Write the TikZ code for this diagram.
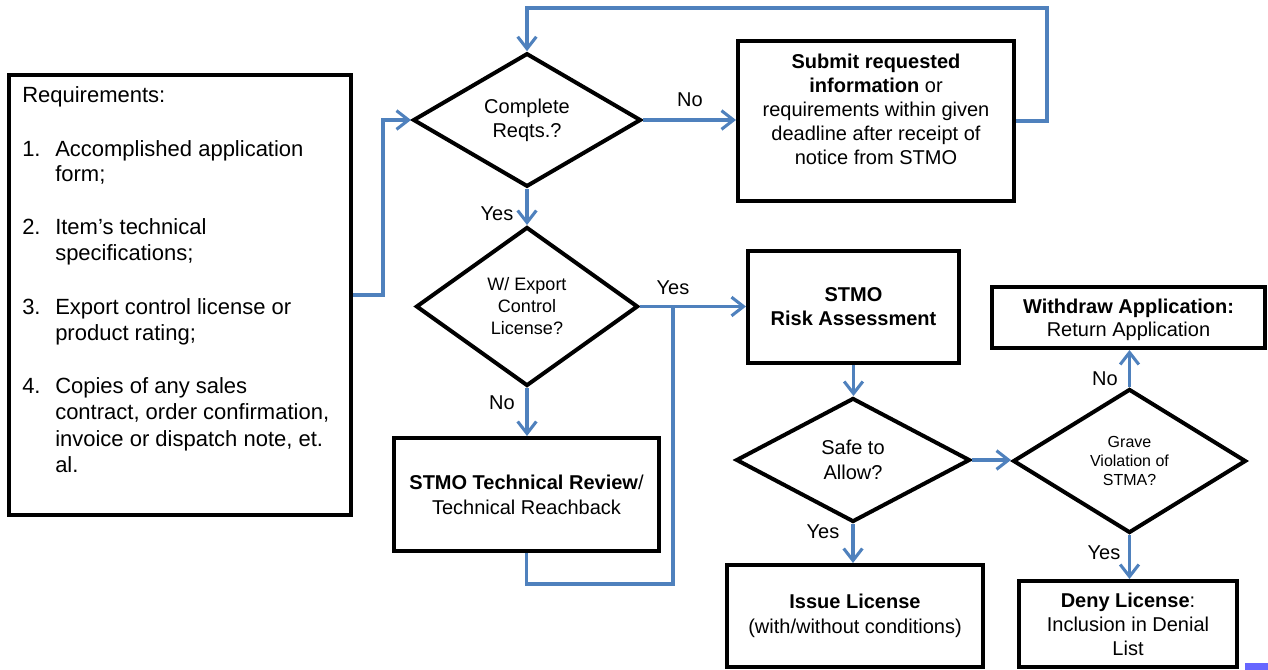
\documentclass[tikz,border=0pt]{standalone}
\usepackage{fontspec}
\setmainfont{Liberation Sans}
\usetikzlibrary{arrows.meta,shapes.geometric}
\definecolor{flow}{RGB}{79,129,189}
\definecolor{patch}{RGB}{102,102,255}
\newcommand\fsz[2]{\fontsize{#1}{#2}\selectfont}
\begin{document}
\begin{tikzpicture}[x=0.75pt,y=-0.75pt,
  box/.style={draw=black,line width=3pt,rectangle,inner sep=0pt},
  dia/.style={draw=black,line width=3pt,diamond,inner sep=1pt,align=center},
  conn/.style={draw=flow,line width=2.3pt},
  arr/.style={conn,-{Straight Barb[length=9pt,width=14pt]}},
  lbl/.style={font=\fsz{15}{18},inner sep=0pt},
  rq/.style={anchor=base west,font=\fsz{16.5}{19.5},inner sep=0pt}]
\useasboundingbox (0,0) rectangle (1268,670);

% Requirements box
\node[box,minimum width=256.5pt,minimum height=330pt] (req) at (180,295) {};
\node[rq] (r0) at (22,103) {Requirements:};
\node[rq] (n1) at (22,157) {1.};
\node[rq] (r1a) at (55,157) {Accomplished application};
\node[rq] (r1b) at (55,182) {form;};
\node[rq] (n2) at (22,235) {2.};
\node[rq] (r2a) at (55,235) {Item’s technical};
\node[rq] (r2b) at (55,261) {specifications;};
\node[rq] (n3) at (22,315) {3.};
\node[rq] (r3a) at (55,315) {Export control license or};
\node[rq] (r3b) at (55,341) {product rating;};
\node[rq] (n4) at (22,393) {4.};
\node[rq] (r4a) at (55,393) {Copies of any sales};
\node[rq] (r4b) at (55,420) {contract, order confirmation,};
\node[rq] (r4c) at (55,446) {invoice or dispatch note, et.};
\node[rq] (r4d) at (55,472) {al.};

% Decisions and boxes
\node[dia,minimum width=171pt,minimum height=93pt,font=\fsz{15}{18}] (c1) at (527,120) {Complete\\Reqts.?};
\node[box,minimum width=207pt,minimum height=120pt] (sub) at (876,121) {};
\node[align=center,font=\fsz{15}{18},inner sep=0pt] (subt) at (876,109) {\textbf{Submit requested}\\\textbf{information} or\\requirements within given\\deadline after receipt of\\notice from STMO};

\node[dia,minimum width=166.5pt,minimum height=119.25pt,font=\fsz{13.5}{16.5}] (c2) at (527,306.5) {W/ Export\\Control\\License?};
\node[box,minimum width=198.75pt,minimum height=84.75pt,align=center,font=\fsz{15}{18.75}] (tech) at (526.5,494.5) {\textbf{STMO Technical Review}/\\Technical Reachback};

\node[box,minimum width=158.25pt,minimum height=84pt,align=center,font=\bfseries\fsz{15}{18}] (risk) at (853.5,307) {STMO\\Risk Assessment};
\node[dia,minimum width=175.5pt,minimum height=93pt,font=\fsz{15}{18.75}] (safe) at (853,460) {Safe to\\Allow?};
\node[dia,minimum width=174.75pt,minimum height=108pt,font=\fsz{12}{14.6}] (grave) at (1129.5,461) {Grave\\Violation of\\STMA?};
\node[box,minimum width=204.75pt,minimum height=45.75pt] (wd) at (1128.5,317.5) {};
\node[align=center,font=\fsz{15}{17.25},inner sep=0pt] (wdt) at (1128.5,320) {\textbf{Withdraw Application:}\\Return Application};
\node[box,minimum width=192pt,minimum height=76.5pt,align=center,font=\fsz{15}{18.75}] (issue) at (855,616) {\textbf{Issue License}\\(with/without conditions)};
\node[box,minimum width=163.5pt,minimum height=64.5pt,align=center,font=\fsz{15}{18}] (deny) at (1128,624) {\textbf{Deny License}:\\Inclusion in Denial\\List};

% Connectors
\coordinate (loop) at (527,8);
\coordinate (jn) at (673,306.5);
\draw[arr] (req.east) -- ++(30,0) |- (c1.west);
\draw[arr] (c1.east) -- (c1.east -| sub.west);
\draw[arr] (sub.east) -- ++(31,0) |- (loop) -- (c1.north);
\draw[arr] (c1.south) -- (c2.north);
\draw[arr] (c2.east) -- (c2.east -| risk.west);
\draw[arr] (c2.south) -- (c2.south |- tech.north);
\draw[conn] (tech.south) -- ++(0,31) -| (jn);
\draw[arr] (risk.south) -- (risk.south |- safe.north);
\draw[arr] (safe.east) -- (safe.east -| grave.west);
\draw[arr] (safe.south) -- (safe.south |- issue.north);
\draw[arr] (grave.north) -- (grave.north |- wd.south);
\draw[arr] (grave.south) -- (grave.south |- deny.north);

% Labels
\node[lbl] (l1) at (690,100) {No};
\node[lbl] (l2) at (497,214) {Yes};
\node[lbl] (l3) at (673,288) {Yes};
\node[lbl] (l4) at (502,403) {No};
\node[lbl] (l5) at (823,532) {Yes};
\node[lbl] (l6) at (1105,379) {No};
\node[lbl] (l7) at (1104,553) {Yes};

\fill[patch] (1245,663) rectangle (1268,670);
\end{tikzpicture}
\end{document}
